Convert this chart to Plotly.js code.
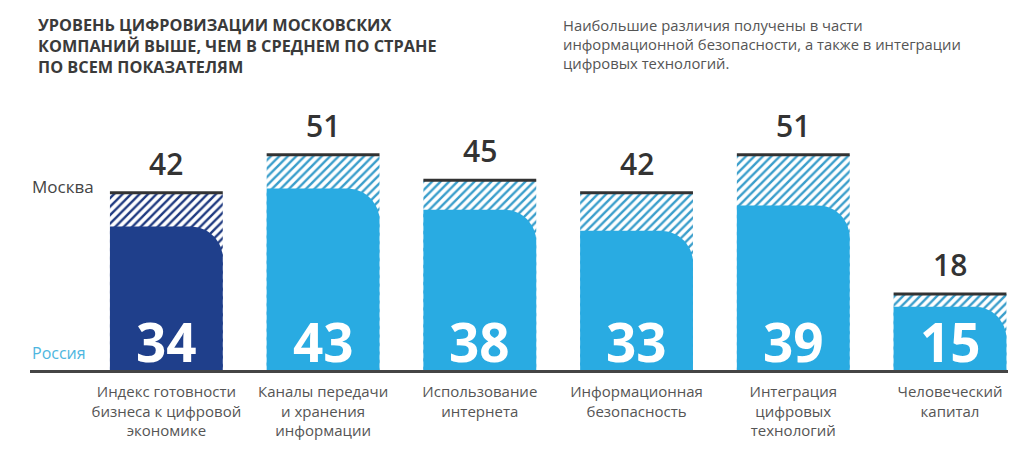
<!DOCTYPE html>
<html>
<head>
<meta charset="utf-8">
<script src="https://cdn.plot.ly/plotly-3.0.1.min.js"></script>
<style>
  html, body { margin: 0; padding: 0; background: #ffffff; }
  #chart { width: 1024px; height: 453px; }
</style>
</head>
<body>
<div id="chart"></div>
<script>
// Индикаторы цифровизации: Москва против среднего по России
const categories = [
  'Индекс готовности<br>бизнеса к цифровой<br>экономике',
  'Каналы передачи<br>и хранения<br>информации',
  'Использование<br>интернета',
  'Информационная<br>безопасность',
  'Интеграция<br>цифровых<br>технологий',
  'Человеческий<br>капитал'
];
const moscow = [42, 51, 45, 42, 51, 18];
const russia = [34, 43, 38, 33, 39, 15];

// Оформление
const NAVY = '#1f3f8b';
const SKY = '#29abe2';
const barColors = categories.map((_, i) => (i === 0 ? NAVY : SKY));
const hatchColors = categories.map((_, i) => (i === 0 ? '#1f3a80' : '#3a9ecb'));
const BAR_W = 0.72;
const FONT = 'Open Sans, Noto Sans, sans-serif';

// Геометрия области построения (px) и диапазоны осей
const W = 1024, H = 453;
const M = { l: 30, r: 16, t: 100, b: 83 };
const X_RANGE = [-0.87, 5.37];
const Y_RANGE = [0, 64];
const pxPerX = (W - M.l - M.r) / (X_RANGE[1] - X_RANGE[0]);
const pxPerY = (H - M.t - M.b) / (Y_RANGE[1] - Y_RANGE[0]);
const CORNER_PX = 32;

const xIdx = categories.map((_, i) => i);

// Штриховая часть — уровень Москвы (от нуля, чтобы просвечивать под скруглением)
const moscowTrace = {
  type: 'bar', x: xIdx, y: moscow, width: BAR_W,
  marker: {
    color: '#ffffff',
    pattern: { shape: '/', fgcolor: hatchColors, bgcolor: '#ffffff', size: 6, solidity: 0.4, fillmode: 'replace' },
    line: { width: 0 }
  },
  hoverinfo: 'skip', showlegend: false
};

// Сплошная часть — среднее по России: столбец со скруглённым правым верхним углом
function roundedBar(xc, v, color) {
  const rx = CORNER_PX / pxPerX;
  const ry = Math.min(CORNER_PX / pxPerY, v);
  const left = xc - BAR_W / 2, right = xc + BAR_W / 2;
  const xs = [left, left, right - rx];
  const ys = [0, v, v];
  const steps = 16;
  for (let k = 1; k <= steps; k++) {
    const a = (Math.PI / 2) * (k / steps);
    xs.push(right - rx + rx * Math.sin(a));
    ys.push(v - ry + ry * Math.cos(a));
  }
  xs.push(right, left);
  ys.push(0, 0);
  return {
    type: 'scatter', mode: 'lines', x: xs, y: ys, fill: 'toself', fillcolor: color,
    line: { width: 0, color: color }, hoverinfo: 'skip', showlegend: false
  };
}
const russiaTraces = russia.map((v, i) => roundedBar(i, v, barColors[i]));

// Тёмная черта по верхней границе значения Москвы
const CAP = 0.7;
const capTrace = {
  type: 'bar', x: xIdx, y: moscow.map(() => CAP), base: moscow.map(v => v - CAP / 2), width: BAR_W,
  marker: { color: '#333333', line: { width: 0 } },
  hoverinfo: 'skip', showlegend: false
};

const annotations = [];
moscow.forEach((v, i) => {
  annotations.push({
    x: i, y: v, xref: 'x', yref: 'y', text: String(v), showarrow: false,
    yanchor: 'bottom', yshift: 7,
    font: { family: FONT, size: 30, color: '#333333', weight: 600 }
  });
});
russia.forEach((v, i) => {
  annotations.push({
    x: i, y: 0, xref: 'x', yref: 'y', text: String(v), showarrow: false,
    yanchor: 'bottom', yshift: -10,
    font: { family: FONT, size: 53, color: '#ffffff', weight: 700 }
  });
});
annotations.push({
  x: 0, xref: 'paper', xanchor: 'left', y: 43.6, yref: 'y', yanchor: 'middle',
  text: 'Москва', showarrow: false, font: { family: FONT, size: 17, color: '#444444' }
});
annotations.push({
  x: 0, xref: 'paper', xanchor: 'left', y: 4, yref: 'y', yanchor: 'middle',
  text: 'Россия', showarrow: false, font: { family: FONT, size: 16, color: '#4db6e0' }
});
annotations.push({
  x: (562 - 31) / 978, xref: 'paper', xanchor: 'left', align: 'left',
  y: 1 + 87 / 270, yref: 'paper', yanchor: 'top',
  text: 'Наибольшие различия получены в части<br>информационной безопасности, а также в интеграции<br>цифровых технологий.',
  showarrow: false, font: { family: FONT, size: 14.8, color: '#555555' }
});

const layout = {
  width: W, height: H,
  margin: M,
  paper_bgcolor: '#ffffff', plot_bgcolor: '#ffffff',
  barmode: 'overlay',
  title: {
    text: '<b>УРОВЕНЬ ЦИФРОВИЗАЦИИ МОСКОВСКИХ<br>КОМПАНИЙ ВЫШЕ, ЧЕМ В СРЕДНЕМ ПО СТРАНЕ<br>ПО ВСЕМ ПОКАЗАТЕЛЯМ</b>',
    x: 38 / W, xanchor: 'left', xref: 'container',
    y: 1 - 31 / H, yanchor: 'top', yref: 'container',
    font: { family: FONT, size: 16.3, color: '#3a3a3a' }
  },
  xaxis: {
    range: X_RANGE, tickmode: 'array', tickvals: xIdx, ticktext: categories,
    showgrid: false, zeroline: false, showline: true, linecolor: '#454545', linewidth: 3,
    ticks: '', ticklabelstandoff: 6,
    tickfont: { family: FONT, size: 15, color: '#555555' }, fixedrange: true
  },
  yaxis: {
    range: Y_RANGE, visible: false, showgrid: false, zeroline: false, fixedrange: true
  },
  annotations: annotations,
  showlegend: false
};

Plotly.newPlot('chart', [moscowTrace, ...russiaTraces, capTrace], layout, { displayModeBar: false, staticPlot: true });
</script>
</body>
</html>
